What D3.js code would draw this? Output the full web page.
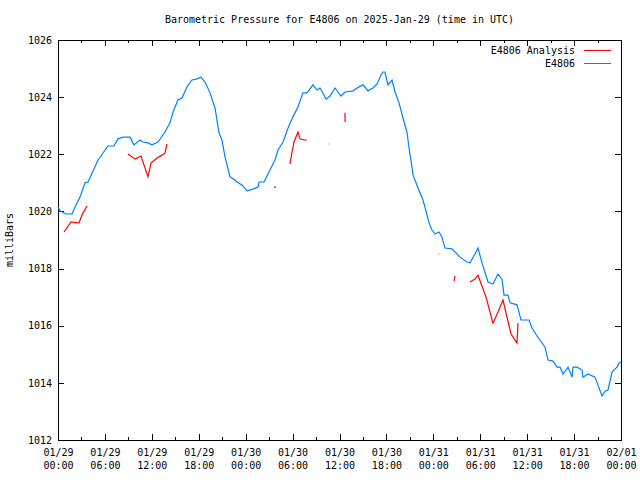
<!DOCTYPE html>
<html>
<head>
<meta charset="utf-8">
<script src="https://cdn.jsdelivr.net/npm/d3@7"></script>
<style>
  html, body { margin: 0; padding: 0; background: #fff; }
  svg { display: block; }
  text { font-family: "DejaVu Sans Mono", "Liberation Mono", monospace; font-size: 10px; fill: #000; }
</style>
</head>
<body>
<svg id="chart" width="640" height="480"></svg>
<script>
// Hours since 2025-01-29 00:00 UTC and pressure (mbar)
const obsHours = [0,0.26,1.02,1.79,2.17,2.81,3.45,3.84,4.35,5.12,6.39,7.16,7.67,8.31,9.21,9.72,10.49,10.87,11.51,12.02,12.79,13.68,14.32,14.71,15.35,15.86,16.5,17.14,17.78,18.29,18.8,19.44,20.08,20.59,20.97,21.36,22.0,22.64,22.89,23.53,24.17,24.94,25.58,25.71,26.35,27.11,27.75,28.14,28.78,29.42,30.05,30.69,31.33,31.85,32.61,33.12,33.51,34.28,34.79,35.43,36.19,36.71,37.73,38.24,39.01,39.65,40.29,40.8,41.31,41.57,41.82,42.2,42.72,42.97,43.1,43.61,44.12,44.63,44.89,45.27,45.4,46.04,46.68,47.19,47.45,47.83,48.22,48.73,49.11,49.49,50.39,51.41,52.31,52.69,53.33,53.71,54.23,54.99,55.63,56.27,56.78,57.04,57.55,57.81,58.7,59.21,60.24,60.62,61.26,62.28,62.67,63.31,63.82,64.2,64.59,65.23,65.74,65.86,66.38,67.02,67.14,67.78,68.68,69.06,69.57,69.96,70.34,70.85,71.49,71.75,72.0];
const obsValues = [1020.15,1020.02,1019.91,1019.91,1020.15,1020.5,1021.0,1021.03,1021.34,1021.8,1022.29,1022.29,1022.54,1022.6,1022.6,1022.33,1022.5,1022.43,1022.4,1022.33,1022.43,1022.78,1023.1,1023.48,1023.9,1023.97,1024.36,1024.6,1024.64,1024.7,1024.53,1024.15,1023.62,1022.75,1022.5,1021.9,1021.21,1021.1,1021.03,1020.93,1020.72,1020.78,1020.85,1021.03,1021.03,1021.45,1021.8,1022.15,1022.43,1022.92,1023.31,1023.66,1024.15,1024.15,1024.43,1024.25,1024.32,1023.93,1024.04,1024.32,1024.04,1024.18,1024.22,1024.32,1024.43,1024.22,1024.32,1024.46,1024.78,1024.88,1024.88,1024.43,1024.6,1024.32,1024.18,1023.8,1023.27,1022.78,1022.22,1021.56,1021.28,1020.82,1020.4,1019.88,1019.6,1019.35,1019.21,1019.28,1019.1,1018.72,1018.69,1018.4,1018.23,1018.2,1018.51,1018.72,1018.2,1017.53,1017.46,1017.81,1017.63,1017.07,1017.07,1016.8,1016.73,1016.2,1016.2,1015.92,1015.64,1015.25,1014.8,1014.76,1014.55,1014.55,1014.31,1014.55,1014.2,1014.55,1014.55,1014.45,1014.2,1014.31,1014.2,1013.92,1013.54,1013.71,1013.75,1014.38,1014.55,1014.69,1014.73];

// Analysis series: null marks a gap
const anaHours = [0.77,1.66,2.43,2.69,3.07,3.71,null,8.95,9.85,10.62,10.87,11.51,11.89,12.66,13.3,13.68,13.94,null,25.66,25.78,null,27.62,27.88,null,29.67,29.93,30.18,30.69,30.95,31.46,31.85,null,34.62,34.72,null,36.70,36.72,null,48.68,48.78,null,50.65,50.77,null,52.69,53.33,53.71,53.84,54.74,55.63,56.27,56.91,57.42,57.94,58.7,58.83];
const anaValues = [1019.28,1019.63,1019.6,1019.6,1019.88,1020.19,null,1022.01,1021.83,1021.94,1021.73,1021.21,1021.69,1021.87,1021.97,1022.04,1022.36,null,1020.89,1020.89,null,1020.85,1020.85,null,1021.66,1022.08,1022.43,1022.78,1022.54,1022.5,1022.5,null,1022.36,1022.36,null,1023.45,1023.13,null,1018.51,1018.51,null,1017.56,1017.74,null,1017.53,1017.63,1017.77,1017.67,1017.0,1016.09,1016.48,1016.9,1016.3,1015.71,1015.39,1016.09];

const yTicks = [1012,1014,1016,1018,1020,1022,1024,1026];
const xMajorHours = [0,6,12,18,24,30,36,42,48,54,60,66,72];
const xMinorHours = [3,9,15,21,27,33,39,45,51,57,63,69];
const titleText = "Barometric Pressure for E4806 on 2025-Jan-29 (time in UTC)";
const yLabel = "milliBars";
const seriesNames = ["E4806 Analysis", "E4806"];
const seriesColors = ["#ff0000", "#0080ff"];

const t0 = Date.UTC(2025, 0, 29, 0, 0);
const toDate = h => new Date(t0 + h * 3600000);

const L = 58, R = 621, T = 40, B = 440;
const svg = d3.select("#chart");

const x = d3.scaleUtc().domain([toDate(0), toDate(72)]).range([L, R]);
const y = d3.scaleLinear().domain([1012, 1026]).range([B, T]);

const fmtDate = d3.utcFormat("%m/%d");
const fmtTime = d3.utcFormat("%H:%M");

// Bottom axis (major, inward ticks)
const gB = svg.append("g").attr("transform", `translate(0,${B})`)
  .call(d3.axisBottom(x).tickValues(xMajorHours.map(toDate)).tickSize(-6).tickPadding(9).tickFormat(fmtDate));
gB.selectAll(".tick text").each(function(d) {
  const t = d3.select(this);
  t.text(null);
  t.append("tspan").attr("x", 0).attr("dy", "0.71em").text(fmtDate(d));
  t.append("tspan").attr("x", 0).attr("dy", "13px").text(fmtTime(d));
}).attr("dy", null);
svg.append("g").attr("transform", `translate(0,${B})`)
  .call(d3.axisBottom(x).tickValues(xMinorHours.map(toDate)).tickSize(-3).tickFormat(""));
// Top axis mirror
svg.append("g").attr("transform", `translate(0,${T})`)
  .call(d3.axisTop(x).tickValues(xMajorHours.map(toDate)).tickSize(-6).tickFormat(""));
svg.append("g").attr("transform", `translate(0,${T})`)
  .call(d3.axisTop(x).tickValues(xMinorHours.map(toDate)).tickSize(-3).tickFormat(""));
// Left axis
svg.append("g").attr("transform", `translate(${L},0)`)
  .call(d3.axisLeft(y).tickValues(yTicks).tickSize(-6).tickPadding(6).tickFormat(d3.format("d")));
// Right axis mirror
svg.append("g").attr("transform", `translate(${R},0)`)
  .call(d3.axisRight(y).tickValues(yTicks).tickSize(-6).tickFormat(""));

svg.selectAll(".domain").remove();
svg.selectAll(".tick line").attr("stroke", "#000").attr("shape-rendering", "crispEdges");
svg.selectAll(".tick text").attr("fill", "#000")
  .style("font-family", '"DejaVu Sans Mono", "Liberation Mono", monospace').style("font-size", "10px");

// Frame
svg.append("rect").attr("x", L + 0.5).attr("y", T + 0.5).attr("width", R - L).attr("height", B - T)
  .attr("fill", "none").attr("stroke", "#000").attr("shape-rendering", "crispEdges");

// Lines
const obsData = obsHours.map((h, i) => ({ d: toDate(h), v: obsValues[i] }));
const anaData = anaHours.map((h, i) => ({ d: h == null ? null : toDate(h), v: anaValues[i] }));
const line = d3.line().defined(p => p.d != null && p.v != null).x(p => x(p.d)).y(p => y(p.v));

svg.append("path").datum(anaData).attr("d", line)
  .attr("fill", "none").attr("stroke", seriesColors[0]).attr("stroke-width", 1.2);
svg.append("path").datum(obsData).attr("d", line)
  .attr("fill", "none").attr("stroke", seriesColors[1]).attr("stroke-width", 1.2);

// Title
svg.append("text").attr("x", (L + R) / 2).attr("y", 23).attr("text-anchor", "middle").text(titleText);
// Y label
svg.append("text").attr("transform", `translate(13,${(T + B) / 2}) rotate(-90)`)
  .attr("text-anchor", "middle").text(yLabel);

// Legend
seriesNames.forEach((name, i) => {
  const ly = 50 + i * 13;
  svg.append("text").attr("x", 575).attr("y", ly).attr("dy", "0.35em").attr("text-anchor", "end").text(name);
  svg.append("line").attr("x1", 584).attr("x2", 611).attr("y1", ly + 0.5).attr("y2", ly + 0.5)
    .attr("stroke", seriesColors[i]).attr("shape-rendering", "crispEdges");
});
</script>
</body>
</html>
